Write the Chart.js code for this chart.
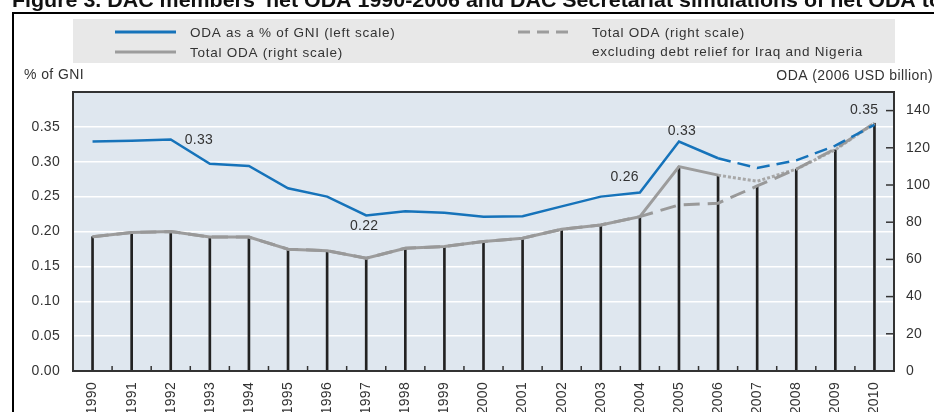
<!DOCTYPE html>
<html>
<head>
<meta charset="utf-8">
<script src="https://cdn.jsdelivr.net/npm/chart.js@4.4.1/dist/chart.umd.min.js"></script>
<style>
  html, body { margin: 0; padding: 0; background: #fff; overflow: hidden; }
  canvas { display: block; }
</style>
</head>
<body>
<canvas id="grafica" width="934" height="412"></canvas>
<script>
// Datos
const years = ['1990', '1991', '1992', '1993', '1994', '1995', '1996', '1997', '1998', '1999', '2000',
               '2001', '2002', '2003', '2004', '2005', '2006', '2007', '2008', '2009', '2010'];

// AOD como % del INB (escala izquierda)
const odaGni = [0.329, 0.330, 0.332, 0.297, 0.294, 0.262, 0.250, 0.223, 0.229, 0.227, 0.221,
                0.222, 0.236, 0.250, 0.256, 0.329, 0.305, 0.291, 0.302, 0.323, 0.353];

// AOD total, miles de millones USD 2006 (escala derecha)
const totalOda = [72.2, 74.4, 75.0, 72.0, 72.0, 65.5, 64.7, 60.6, 66.0, 66.9, 69.6,
                  71.4, 76.2, 78.5, 83.0, 109.9, 105.3, 102.0, 108.5, 119.0, 133.2];

// AOD total sin alivio de deuda para Irak y Nigeria
const odaExclDebt = [72.2, 74.4, 75.0, 72.0, 72.0, 65.5, 64.7, 60.6, 66.0, 66.9, 69.6,
                     71.4, 76.2, 78.5, 83.0, 89.3, 90.2, 99.5, 108.5, 119.5, 133.2];

// Líneas verticales por año (escala derecha)
const dropLines = [72.2, 74.4, 75.0, 72.0, 72.0, 65.5, 64.7, 60.6, 66.0, 66.9, 69.6,
                   71.4, 76.2, 78.5, 83.0, 109.9, 105.3, 99.5, 108.5, 118.9, 133.2];

// Marcas de los ejes
const gniTicks = [0, 0.05, 0.10, 0.15, 0.20, 0.25, 0.30, 0.35];
const odaTicks = [0, 20, 40, 60, 80, 100, 120, 140];

// Índices con etiqueta de valor sobre la línea azul
const labelIndex = [2, 7, 14, 15, 20];

// Primer año simulado (a partir de 2006 las líneas cambian de estilo)
const simStart = years.indexOf('2006');

const FONT = '"Liberation Sans", Arial, sans-serif';
const BLUE = '#1673ba';
const GRAY = '#9c9c9c';
const TEXT = '#333';

Chart.defaults.font.family = FONT;

// Posición de cada etiqueta respecto a su punto
const labelStyle = {
    2:  { dx: 14, dy: 1, align: 'left' },
    7:  { dx: -2, dy: 11, align: 'center' },
    14: { dx: -1, dy: -15, align: 'right' },
    15: { dx: 3, dy: -10, align: 'center' },
    20: { dx: 4, dy: -15, align: 'right' }
};

const decoracion = {
    id: 'decoracion',
    beforeDraw(chart) {
        const { ctx, chartArea: a, width, height } = chart;
        ctx.save();
        ctx.fillStyle = '#fff';
        ctx.fillRect(0, 0, width, height);

        // Título (cortado arriba)
        ctx.fillStyle = '#111';
        ctx.font = 'bold 20px ' + FONT;
        ctx.textBaseline = 'alphabetic';
        ctx.textAlign = 'left';
        const visible = "Figure 3. DAC members' net ODA 1990-2006 and DAC Secretariat simulations of net ODA to";
        const sx = 930 / ctx.measureText(visible).width;
        ctx.save();
        ctx.translate(12, 7);
        ctx.scale(sx, 1);
        ctx.fillText(visible + ' 2010', 0, 0);
        ctx.restore();

        // Marco
        ctx.fillStyle = '#000';
        ctx.fillRect(12, 12, width - 12, 2);
        ctx.fillRect(12, 12, 2, height - 12);

        // Leyenda
        ctx.fillStyle = '#e8e8e8';
        ctx.fillRect(a.left, 19, a.right - a.left + 1, 44);
        ctx.lineWidth = 3;
        ctx.strokeStyle = BLUE;
        ctx.beginPath(); ctx.moveTo(115, 32); ctx.lineTo(176, 32); ctx.stroke();
        ctx.strokeStyle = GRAY;
        ctx.beginPath(); ctx.moveTo(115, 52); ctx.lineTo(176, 52); ctx.stroke();
        ctx.setLineDash([12, 7]);
        ctx.beginPath(); ctx.moveTo(518, 32); ctx.lineTo(575, 32); ctx.stroke();
        ctx.setLineDash([]);

        ctx.letterSpacing = '0.75px';
        ctx.fillStyle = TEXT;
        ctx.font = '13.5px ' + FONT;
        ctx.textBaseline = 'middle';
        ctx.fillText('ODA as a % of GNI (left scale)', 190, 33);
        ctx.fillText('Total ODA (right scale)', 190, 53);
        ctx.fillText('Total ODA (right scale)', 592, 33);
        ctx.fillText('excluding debt relief for Iraq and Nigeria', 592, 52);

        // Títulos de los ejes
        ctx.letterSpacing = '0.4px';
        ctx.font = '14px ' + FONT;
        ctx.fillText('% of GNI', 24, 75);
        ctx.textAlign = 'right';
        ctx.fillText('ODA (2006 USD billion)', 933, 76);

        // Fondo del área de trazado
        ctx.fillStyle = '#dfe7ef';
        ctx.fillRect(a.left, a.top, a.width, a.height);
        ctx.restore();

        ctx.letterSpacing = '0.3px';
    },
    afterDatasetsDraw(chart) {
        const { ctx, chartArea: a } = chart;
        const x = chart.scales.x;
        const yOda = chart.scales.yOda;
        ctx.save();

        // Marcas de la escala derecha (hacia dentro)
        ctx.strokeStyle = TEXT;
        ctx.lineWidth = 1.5;
        odaTicks.forEach(v => {
            if (v === 0) return;
            const py = yOda.getPixelForValue(v);
            ctx.beginPath(); ctx.moveTo(a.right - 8, py); ctx.lineTo(a.right, py); ctx.stroke();
        });

        // Marcas entre años en el eje X
        for (let i = 1; i < years.length; i++) {
            const px = (x.getPixelForTick(i - 1) + x.getPixelForTick(i)) / 2;
            ctx.beginPath(); ctx.moveTo(px, a.bottom - 5); ctx.lineTo(px, a.bottom); ctx.stroke();
        }

        // Borde
        ctx.strokeStyle = '#333';
        ctx.lineWidth = 2;
        ctx.strokeRect(a.left, a.top, a.width, a.height);

        // Etiquetas de valores
        const meta = chart.getDatasetMeta(0);
        ctx.fillStyle = TEXT;
        ctx.font = '14px ' + FONT;
        ctx.textBaseline = 'middle';
        labelIndex.forEach(i => {
            const p = meta.data[i];
            const s = labelStyle[i];
            ctx.textAlign = s.align;
            ctx.fillText(odaGni[i].toFixed(2), p.x + s.dx, p.y + s.dy);
        });
        ctx.restore();
    }
};

const ctx = document.getElementById('grafica').getContext('2d');

new Chart(ctx, {
    type: 'line',
    data: {
        labels: years,
        datasets: [
            {
                label: 'ODA as a % of GNI (left scale)',
                data: odaGni,
                yAxisID: 'yGni',
                borderColor: BLUE,
                borderWidth: 2.5,
                pointRadius: 0,
                tension: 0,
                segment: { borderDash: c => c.p0DataIndex >= simStart ? [13, 7] : undefined },
                order: 1
            },
            {
                label: 'Total ODA (right scale)',
                data: totalOda,
                yAxisID: 'yOda',
                borderColor: GRAY,
                borderWidth: 3,
                pointRadius: 0,
                tension: 0,
                segment: {
                    borderDash: c => c.p0DataIndex >= simStart ? [3, 2] : undefined,
                    borderColor: c => c.p0DataIndex >= simStart ? '#a8a8a8' : undefined
                },
                order: 3
            },
            {
                label: 'Total ODA excluding debt relief for Iraq and Nigeria',
                data: odaExclDebt,
                yAxisID: 'yOda',
                borderColor: '#999',
                borderWidth: 3,
                borderDash: [16, 8],
                pointRadius: 0,
                tension: 0,
                order: 2
            },
            {
                type: 'bar',
                label: 'drop',
                data: dropLines,
                yAxisID: 'yOda',
                backgroundColor: '#222',
                barThickness: 2,
                order: 10
            }
        ]
    },
    options: {
        responsive: false,
        animation: false,
        layout: { padding: { top: 92, left: 0, right: 0, bottom: 0 } },
        plugins: {
            legend: { display: false },
            tooltip: { enabled: false }
        },
        scales: {
            x: {
                type: 'category',
                offset: true,
                grid: { display: false, drawTicks: false },
                border: { display: false },
                ticks: {
                    color: TEXT,
                    font: { size: 14 },
                    minRotation: 90,
                    maxRotation: 90,
                    autoSkip: false,
                    padding: 11
                },
                afterFit: s => { s.height = 41; }
            },
            yGni: {
                position: 'left',
                min: 0,
                max: 0.4,
                afterBuildTicks: s => { s.ticks = gniTicks.map(v => ({ value: v })); },
                ticks: {
                    color: TEXT,
                    font: { size: 14 },
                    padding: 13,
                    callback: v => Number(v).toFixed(2)
                },
                grid: { color: '#fff', lineWidth: 1.5, drawTicks: false },
                border: { display: false },
                afterFit: s => { s.width = 73; }
            },
            yOda: {
                position: 'right',
                min: 0,
                max: 150,
                afterBuildTicks: s => { s.ticks = odaTicks.map(v => ({ value: v })); },
                ticks: {
                    color: TEXT,
                    font: { size: 14 },
                    padding: 12
                },
                grid: { drawOnChartArea: false, drawTicks: false },
                border: { display: false },
                afterFit: s => { s.width = 40; }
            }
        }
    },
    plugins: [decoracion]
});
</script>
</body>
</html>
